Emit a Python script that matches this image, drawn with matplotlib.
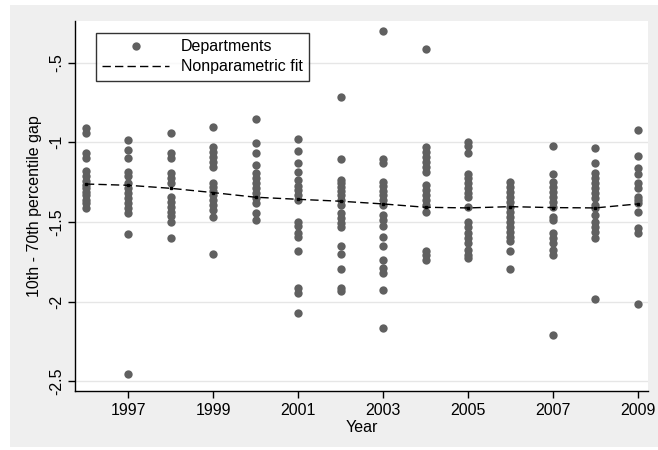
import matplotlib
matplotlib.use("Agg")
import matplotlib.pyplot as plt
from matplotlib.patches import Rectangle
import numpy as np

plt.rcParams['font.family'] = ['Liberation Sans', 'DejaVu Sans']

# department gaps by year
gaps = {
    1996: [-0.91, -0.94, -1.07, -1.10, -1.18, -1.21, -1.24, -1.27, -1.29, -1.31, -1.33, -1.36, -1.38, -1.41],
    1997: [-0.986, -1.048, -1.097, -1.185, -1.21, -1.256, -1.29, -1.32, -1.35, -1.38, -1.41, -1.444, -1.576, -2.456],
    1998: [-0.944, -1.069, -1.10, -1.195, -1.226, -1.254, -1.345, -1.375, -1.406, -1.437, -1.463, -1.50, -1.60],
    1999: [-0.902, -1.031, -1.063, -1.094, -1.126, -1.157, -1.254, -1.279, -1.304, -1.331, -1.362, -1.394, -1.425, -1.467, -1.701],
    2000: [-0.856, -1.006, -1.069, -1.142, -1.195, -1.226, -1.257, -1.289, -1.32, -1.352, -1.38, -1.446, -1.488],
    2001: [-0.98, -1.055, -1.132, -1.185, -1.237, -1.274, -1.30, -1.331, -1.362, -1.50, -1.525, -1.571, -1.594,
           -1.682, -1.917, -1.948, -2.07],
    2002: [-0.718, -1.107, -1.237, -1.257, -1.28, -1.305, -1.331, -1.362, -1.394, -1.446, -1.477, -1.505, -1.53,
           -1.651, -1.701, -1.796, -1.917, -1.933],
    2003: [-0.30, -1.105, -1.13, -1.247, -1.274, -1.304, -1.331, -1.362, -1.394, -1.457, -1.488, -1.525, -1.596,
           -1.649, -1.739, -1.791, -1.822, -1.927, -2.168],
    2004: [-0.416, -1.028, -1.06, -1.09, -1.122, -1.153, -1.185, -1.268, -1.30, -1.331, -1.362, -1.394, -1.436,
           -1.68, -1.707, -1.739],
    2005: [-0.996, -1.025, -1.065, -1.199, -1.226, -1.257, -1.289, -1.32, -1.345, -1.408, -1.498, -1.53, -1.571,
           -1.603, -1.634, -1.676, -1.707, -1.728],
    2006: [-1.247, -1.279, -1.31, -1.341, -1.373, -1.404, -1.436, -1.467, -1.498, -1.53, -1.561, -1.593, -1.62,
           -1.68, -1.797],
    2007: [-1.021, -1.199, -1.247, -1.279, -1.31, -1.341, -1.373, -1.404, -1.467, -1.488, -1.571, -1.603, -1.634,
           -1.676, -1.707, -2.21],
    2008: [-1.038, -1.13, -1.195, -1.226, -1.257, -1.289, -1.32, -1.35, -1.394, -1.414, -1.456, -1.498, -1.53,
           -1.561, -1.603, -1.984],
    2009: [-0.923, -1.086, -1.163, -1.199, -1.257, -1.289, -1.341, -1.362, -1.383, -1.436, -1.54, -1.571, -2.015],
}

fit_years = [1996, 1997, 1998, 1999, 2000, 2001, 2002, 2003, 2004, 2005, 2006, 2007, 2008, 2009]
fit_vals = [-1.262, -1.27, -1.289, -1.316, -1.345, -1.358, -1.37, -1.387, -1.408, -1.412, -1.404, -1.41, -1.412, -1.387]

yticks = [-0.5, -1, -1.5, -2, -2.5]
ytick_labels = ["-.5", "-1", "-1.5", "-2", "-2.5"]
xticks = [1997, 1999, 2001, 2003, 2005, 2007, 2009]

fig = plt.figure(figsize=(6.58, 4.5), dpi=100)
fig.patch.set_facecolor('white')
fig.patches.append(Rectangle((10 / 658, 3 / 450), 648 / 658, 442 / 450, transform=fig.transFigure,
                             facecolor='#efefef', edgecolor='none', zorder=-10))

ax = fig.add_axes([75.3 / 658, 1 - 390.7 / 450, 572.7 / 658, 369.7 / 450])
ax.set_zorder(5)
ax.set_facecolor('white')

xs = np.concatenate([[y] * len(v) for y, v in gaps.items()])
ys = np.concatenate([v for v in gaps.values()])
ax.plot(xs, ys, 'o', color='#606060', markersize=6, markeredgewidth=0, label='Departments', zorder=3)
ax.plot(fit_years, fit_vals, color='black', lw=1.0, dashes=(6, 3), label='Nonparametric fit', zorder=4)
ax.plot(fit_years, fit_vals, 's', color='black', markersize=1.5, zorder=4)

ax.set_xlim(1995.75, 2009.24)
ax.set_ylim(-2.559, -0.239)
ax.set_xticks(xticks)
ax.set_yticks(yticks)
ax.set_yticklabels(ytick_labels, rotation=90, va='center')
ax.tick_params(axis='both', direction='out', length=5, width=1, labelsize=11.5, color='black')
ax.tick_params(axis='y', pad=3)
ax.tick_params(axis='x', pad=4)
ax.grid(axis='y', color='#e6e6e6', lw=1)
ax.set_axisbelow(True)

for s in ['top', 'right']:
    ax.spines[s].set_visible(False)
for s in ['left', 'bottom']:
    ax.spines[s].set_linewidth(1)

ax.set_xlabel('Year', fontsize=11.5, labelpad=1)
ax.set_ylabel('10th - 70th percentile gap', fontsize=11.5, labelpad=5)

leg = ax.legend(loc='upper left', bbox_to_anchor=(0.036, 0.9675), fontsize=11.5, frameon=True, fancybox=False,
                edgecolor='black', handlelength=4.2, handletextpad=0.7, borderpad=0.4, labelspacing=0.3,
                borderaxespad=0)
leg.get_frame().set_linewidth(1)

fig.savefig('out.png', dpi=100)
